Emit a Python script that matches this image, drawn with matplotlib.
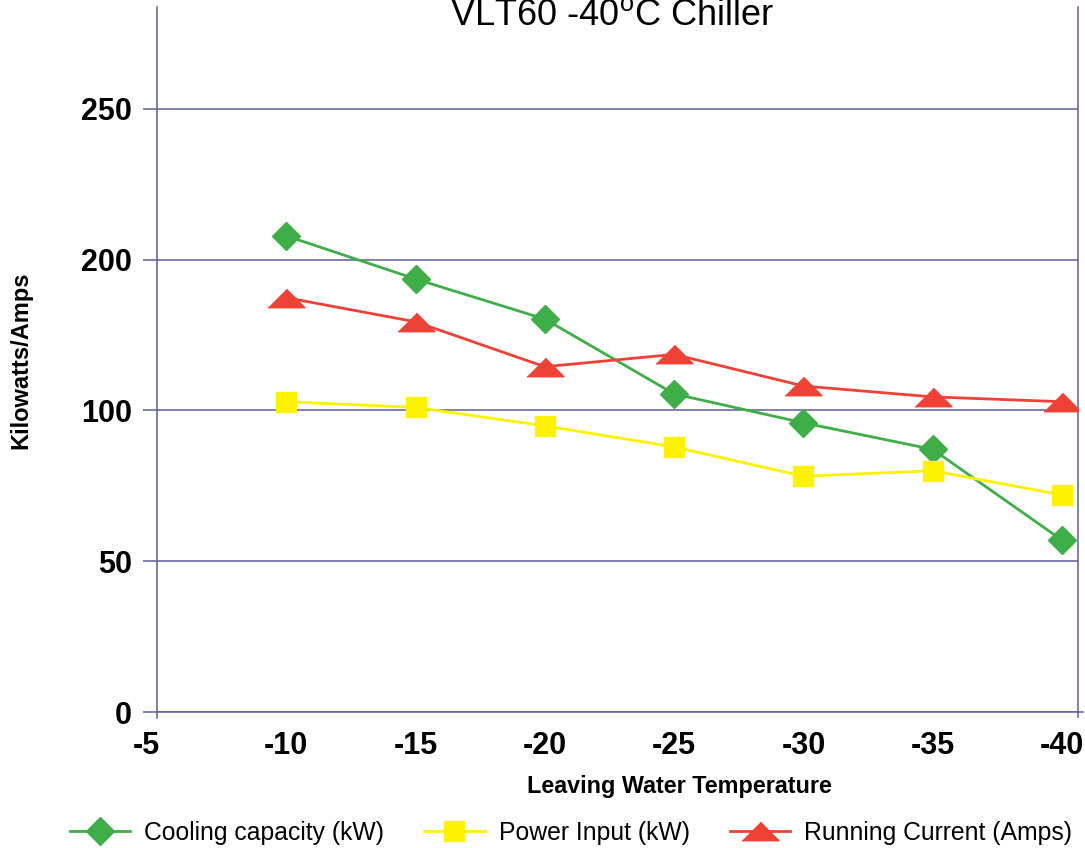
import matplotlib
matplotlib.use("Agg")
import matplotlib.pyplot as plt
import matplotlib.transforms as mtransforms

plt.rcParams['font.family'] = ['Liberation Sans', 'DejaVu Sans']
plt.rcParams['mathtext.fontset'] = 'custom'
plt.rcParams['mathtext.rm'] = 'Liberation Sans'

# leaving water temperature (deg C)
temps = [-10, -15, -20, -25, -30, -35, -40]

# values as plotted on the chart's own (oddly labelled) y scale
cooling = [157.9, 143.6, 130.3, 105.5, 95.9, 87.1, 57.0]
power = [102.9, 101.0, 94.9, 87.9, 78.2, 80.0, 72.0]
current = [137.4, 129.4, 114.5, 118.6, 108.1, 104.5, 102.9]

xticks = [-5, -10, -15, -20, -25, -30, -35, -40]
yticks = [0, 50, 100, 150, 200]
ytick_labels = ['0', '50', '100', '200', '250']

green = '#3fae49'
yellow = '#fff200'
red = '#ef4136'
axis_col = '#5d5f96'

W, H = 1085, 848
fig = plt.figure(figsize=(W / 100, H / 100), dpi=100)
ax = fig.add_axes([157 / W, 1 - 712 / H, (1078 - 157) / W, (712 - 7) / H])

tri = [(-1, -0.5), (1, -0.5), (0, 0.5)]

ax.plot(temps, cooling, color=green, lw=2, marker='D', ms=14,
        label='Cooling capacity (kW)', zorder=3)
ax.plot(temps, power, color=yellow, lw=2, marker='s', ms=14.4,
        label='Power Input (kW)', zorder=4)
ax.plot(temps, current, color=red, lw=2, marker=tri, ms=26.6,
        label='Running Current (Amps)', zorder=5)

ax.set_xlim(-5, -40.62)
ax.set_ylim(0, 233.8)

ax.set_xticks(xticks)
ax.set_xticklabels([str(t) for t in xticks])
ax.set_yticks(yticks)
ax.set_yticklabels(ytick_labels)

ax.tick_params(axis='x', length=0, pad=14, labelsize=22)
ax.tick_params(axis='y', length=10, width=1.1, color=axis_col, pad=8, labelsize=22)
for lab in ax.get_xticklabels() + ax.get_yticklabels():
    lab.set_fontweight('bold')

# the "-5" label sits a little left of its tick in the original
first = ax.get_xticklabels()[0]
first.set_transform(first.get_transform() +
                    mtransforms.ScaledTranslation(-11 / 100, 0, fig.dpi_scale_trans))

ax.grid(axis='y', color=axis_col, lw=1.1)
ax.set_axisbelow(True)
ax.spines['top'].set_visible(False)
for s in ['left', 'right', 'bottom']:
    ax.spines[s].set_color(axis_col)
    ax.spines[s].set_linewidth(1.1)
ax.spines['left'].set_bounds(-2, 233.8)
ax.spines['right'].set_bounds(-1.7, 233.8)
ax.spines['bottom'].set_bounds(-5, -40.82)

fig.text(612 / W, 1 - 25 / H, 'VLT60 -40$^{\\rm o}$C Chiller', fontsize=26,
         ha='center', va='baseline')
fig.text(679 / W, 1 - 787 / H, 'Leaving Water Temperature', fontsize=16.8,
         fontweight='bold', ha='center', va='center')
fig.text(21 / W, 1 - 360 / H, 'Kilowatts/Amps', fontsize=17, fontweight='bold',
         rotation=90, ha='center', va='center')

fig.legend(loc='center', bbox_to_anchor=(571 / W, 1 - 832.7 / H), ncol=3,
           frameon=False, fontsize=17.8, handlelength=2.45, handletextpad=0.58,
           columnspacing=1.6, borderpad=0, borderaxespad=0)

fig.savefig('out.png', dpi=100)
